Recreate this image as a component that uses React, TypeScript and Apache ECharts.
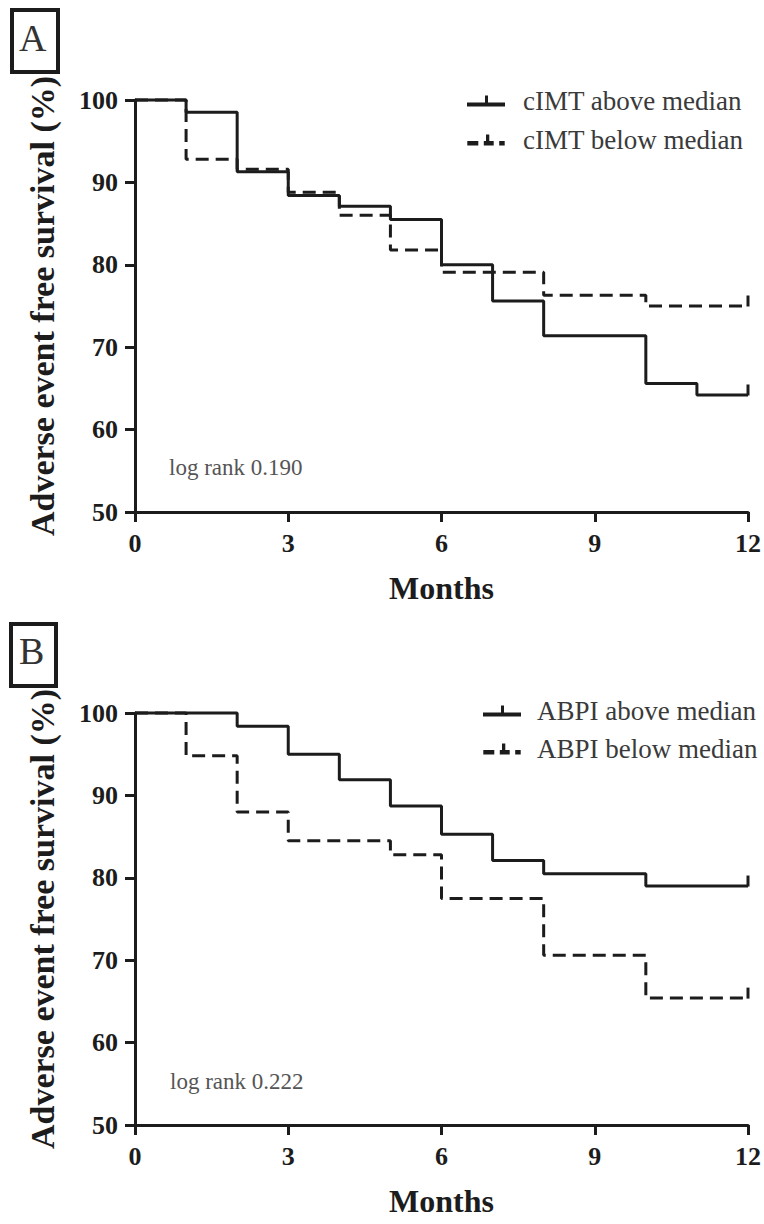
import React, { useEffect, useRef } from "react";
import * as echarts from "echarts";

// ---- Data ----
const monthTicks = [0, 3, 6, 9, 12];
const survivalTicks = [50, 60, 70, 80, 90, 100];

// Panel A: cIMT
const aAboveMonths = [0, 1, 2, 3, 4, 5, 6, 7, 8, 10, 11, 12];
const aAboveSurv = [100, 98.5, 91.3, 88.4, 87.1, 85.5, 80.0, 75.6, 71.4, 65.6, 64.2, 64.2];
const aBelowMonths = [0, 1, 2, 3, 4, 5, 6, 8, 10, 12];
const aBelowSurv = [100, 92.8, 91.6, 88.8, 86.0, 81.8, 79.1, 76.3, 75.0, 75.0];

// Panel B: ABPI
const bAboveMonths = [0, 2, 3, 4, 5, 6, 7, 8, 10, 12];
const bAboveSurv = [100, 98.4, 95.0, 91.9, 88.7, 85.3, 82.1, 80.5, 79.0, 79.0];
const bBelowMonths = [0, 1, 2, 3, 5, 6, 8, 10, 12];
const bBelowSurv = [100, 94.8, 88.0, 84.5, 82.8, 77.5, 70.6, 65.4, 65.4];

const seriesNamesA = ["cIMT above median", "cIMT below median"];
const seriesNamesB = ["ABPI above median", "ABPI below median"];
const logRankA = "log rank 0.190";
const logRankB = "log rank 0.222";
const panelLabels = ["A", "B"];

const FONT = "'Liberation Serif', 'Times New Roman', serif";
const INK = "#1c1c1c";

const solidIcon = "path://M0,7H38V11H0Z M18,0H21V9H18Z";
const dashedIcon = "path://M0,7H10V11H0Z M15,7H24V11H15Z M17,1H20V9H17Z M29,7H34V11H29Z";

function kmData(months: number[], surv: number[]) {
  const last = months.length - 1;
  return months.map((m, i) =>
    i === last
      ? { value: [m, surv[i]], symbol: "rect", symbolSize: [3, 11], symbolOffset: [0, -5] }
      : { value: [m, surv[i]], symbol: "none" }
  );
}

function xAxisCfg(gridIndex: number) {
  return {
    type: "value" as const,
    gridIndex,
    min: monthTicks[0],
    max: monthTicks[monthTicks.length - 1],
    interval: 3,
    name: "Months",
    nameLocation: "middle" as const,
    nameGap: 60,
    nameTextStyle: { fontFamily: FONT, fontWeight: "bold", fontSize: 32, color: INK },
    axisLine: { show: true, onZero: false, lineStyle: { color: INK, width: 3 } },
    axisTick: { show: true, length: 10, lineStyle: { color: INK, width: 3 } },
    axisLabel: { fontFamily: FONT, fontWeight: "bold", fontSize: 26, color: INK, margin: 18 },
    splitLine: { show: false },
  };
}

function yAxisCfg(gridIndex: number) {
  return {
    type: "value" as const,
    gridIndex,
    min: survivalTicks[0],
    max: survivalTicks[survivalTicks.length - 1],
    interval: 10,
    name: "Adverse event free survival (%)",
    nameLocation: "middle" as const,
    nameRotate: 90,
    nameGap: 76,
    nameTextStyle: { fontFamily: FONT, fontWeight: "bold", fontSize: 34, color: INK },
    axisLine: { show: true, onZero: false, lineStyle: { color: INK, width: 3 } },
    axisTick: { show: true, length: 10, lineStyle: { color: INK, width: 3 } },
    axisLabel: { fontFamily: FONT, fontWeight: "bold", fontSize: 26, color: INK, margin: 17 },
    splitLine: { show: false },
  };
}

function stepSeries(name: string, idx: number, months: number[], surv: number[], dashed: boolean) {
  return {
    type: "line" as const,
    name,
    xAxisIndex: idx,
    yAxisIndex: idx,
    step: "end" as const,
    data: kmData(months, surv),
    showSymbol: true,
    symbol: "rect",
    itemStyle: { color: INK },
    lineStyle: { color: INK, width: 3, type: dashed ? [13, 7] : "solid" },
    clip: false,
    silent: true,
  };
}

function legendCfg(names: string[], left: number, top: number, gap: number, pad: number) {
  return {
    orient: "vertical" as const,
    left,
    top,
    itemGap: gap,
    itemWidth: 38,
    itemHeight: 11,
    selectedMode: false,
    data: [
      { name: names[0], icon: solidIcon },
      { name: names[1], icon: dashedIcon },
    ],
    textStyle: {
      fontFamily: FONT,
      fontSize: 27,
      color: "#3a3a3a",
      lineHeight: 28,
      padding: [0, 0, 0, pad],
    },
  };
}

export default function App() {
  const ref = useRef<HTMLDivElement>(null);

  useEffect(() => {
    if (!ref.current) return;
    const chart = echarts.init(ref.current, undefined, { renderer: "svg" });
    chart.setOption({
      animation: false,
      backgroundColor: "#ffffff",
      grid: [
        { left: 135, top: 100, width: 613, height: 412 },
        { left: 135, top: 713, width: 613, height: 412 },
      ],
      xAxis: [xAxisCfg(0), xAxisCfg(1)],
      yAxis: [yAxisCfg(0), yAxisCfg(1)],
      legend: [
        legendCfg(seriesNamesA, 462, 82, 11, 13),
        legendCfg(seriesNamesB, 478, 692, 10, 11),
      ],
      series: [
        stepSeries(seriesNamesA[0], 0, aAboveMonths, aAboveSurv, false),
        stepSeries(seriesNamesA[1], 0, aBelowMonths, aBelowSurv, true),
        stepSeries(seriesNamesB[0], 1, bAboveMonths, bAboveSurv, false),
        stepSeries(seriesNamesB[1], 1, bBelowMonths, bBelowSurv, true),
      ],
      graphic: [
        { type: "rect", left: 10, top: 8, shape: { width: 46, height: 62 }, style: { fill: "#fff", stroke: INK, lineWidth: 4 } },
        { type: "text", left: 19, top: 19, style: { text: panelLabels[0], font: `38px ${FONT}`, fill: "#333" } },
        { type: "rect", left: 9, top: 622, shape: { width: 45, height: 62 }, style: { fill: "#fff", stroke: INK, lineWidth: 4 } },
        { type: "text", left: 19, top: 632, style: { text: panelLabels[1], font: `38px ${FONT}`, fill: "#333" } },
        { type: "text", left: 169, top: 456, style: { text: logRankA, font: `23px ${FONT}`, fill: "#555" } },
        { type: "text", left: 170, top: 1070, style: { text: logRankB, font: `23px ${FONT}`, fill: "#555" } },
      ],
    });
    return () => chart.dispose();
  }, []);

  return (
    <div
      ref={ref}
      style={{ position: "absolute", left: 0, top: 0, width: 764, height: 1224, background: "#fff" }}
    />
  );
}
